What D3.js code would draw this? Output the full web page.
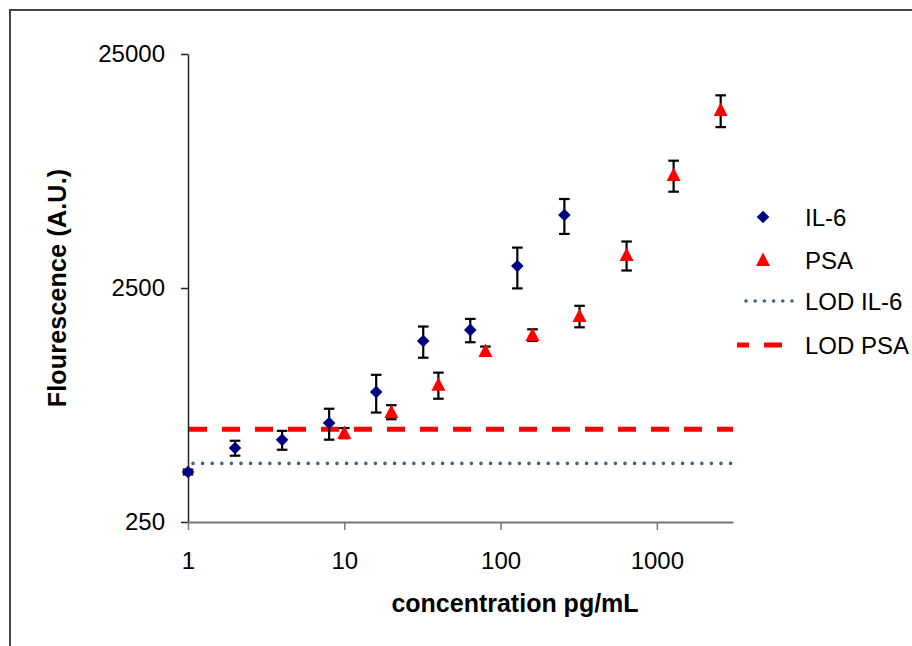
<!DOCTYPE html>
<html>
<head>
<meta charset="utf-8">
<script src="https://cdn.jsdelivr.net/npm/d3@7"></script>
<style>
  html, body { margin: 0; padding: 0; background: #fff; }
  svg { display: block; font-family: "Liberation Sans", Arial, sans-serif; }
</style>
</head>
<body>
<svg id="chart" width="912" height="646"></svg>
<script>
// ---- data ----
const il6Conc = [1, 2, 4, 8, 16, 32, 64, 128, 256];
const il6Fluor = [409, 518, 561, 662, 899, 1485, 1655, 3105, 5129];
const il6Err = [10, 38, 52, 100, 165, 226, 189, 615, 873];

const psaConc = [10, 20, 40, 80, 160, 320, 640, 1280, 2560];
const psaFluor = [600, 738, 964, 1345, 1575, 1898, 3460, 7600, 14410];
const psaErr = [30, 51, 123, 60, 90, 200, 490, 1150, 2235];

const lodIL6 = 445;
const lodPSA = 623;

const xTicks = [1, 10, 100, 1000];
const yTicks = [250, 2500, 25000];
const xDomain = [1, 3070];
const yDomain = [250, 25000];

const legendLabels = ["IL-6", "PSA", "LOD IL-6", "LOD PSA"];
const xTitle = "concentration pg/mL";
const yTitle = "Flourescence (A.U.)";

// ---- layout ----
const svg = d3.select("#chart");
const pLeft = 188, pRight = 733, pTop = 54, pBottom = 522;

const x = d3.scaleLog().domain(xDomain).range([pLeft, pRight]);
const y = d3.scaleLog().domain(yDomain).range([pBottom, pTop]);

// outer border
svg.append("path").attr("d", "M10,646 V10 H912")
  .attr("fill", "none").attr("stroke", "#444").attr("stroke-width", 2);

// axes
const yAxis = svg.append("g").attr("transform", `translate(${pLeft},0)`)
  .call(d3.axisLeft(y).tickValues(yTicks).tickFormat(d3.format("d"))
    .tickSize(7).tickSizeOuter(0).tickPadding(16));
yAxis.select(".domain").attr("stroke", "#222").attr("stroke-width", 1.5);
yAxis.selectAll(".tick line").attr("stroke", "#222").attr("stroke-width", 1.5);
yAxis.selectAll("text").attr("font-size", 24).attr("fill", "#000")
  .attr("font-family", "Liberation Sans, Arial, sans-serif");

const xAxis = svg.append("g").attr("transform", `translate(0,${pBottom})`)
  .call(d3.axisBottom(x).tickValues(xTicks).tickFormat(d3.format("d"))
    .tickSize(8).tickSizeOuter(0).tickPadding(22));
xAxis.select(".domain").attr("stroke", "#777").attr("stroke-width", 2.2);
xAxis.selectAll(".tick line").attr("stroke", "#777").attr("stroke-width", 1.5);
xAxis.selectAll("text").attr("font-size", 24).attr("fill", "#000")
  .attr("font-family", "Liberation Sans, Arial, sans-serif");

// axis titles
svg.append("text").attr("x", 515).attr("y", 612)
  .attr("text-anchor", "middle").attr("font-size", 25).attr("font-weight", "bold")
  .text(xTitle);
svg.append("text").attr("transform", `translate(66,${(pTop + pBottom) / 2}) rotate(-90)`)
  .attr("text-anchor", "middle").attr("font-size", 25).attr("font-weight", "bold")
  .attr("letter-spacing", 0.2).text(yTitle);

// LOD lines
const dotColor = "#41637f", dashColor = "#ff0000";
svg.append("line").attr("x1", pLeft + 5).attr("x2", pRight)
  .attr("y1", y(lodIL6)).attr("y2", y(lodIL6))
  .attr("stroke", dotColor).attr("stroke-width", 3.6)
  .attr("stroke-linecap", "round").attr("stroke-dasharray", "0 9.6");
svg.append("line").attr("x1", pLeft + 1).attr("x2", pRight)
  .attr("y1", y(lodPSA)).attr("y2", y(lodPSA))
  .attr("stroke", dashColor).attr("stroke-width", 5)
  .attr("stroke-dasharray", "18 15");

// error bars
function errBars(xs, ys, es) {
  const g = svg.append("g").attr("stroke", "#000").attr("stroke-width", 2.2);
  xs.forEach((c, i) => {
    const cx = x(c), y1 = y(ys[i] + es[i]), y0 = y(ys[i] - es[i]);
    g.append("line").attr("x1", cx).attr("x2", cx).attr("y1", y1).attr("y2", y0);
    g.append("line").attr("x1", cx - 5.3).attr("x2", cx + 5.3).attr("y1", y1).attr("y2", y1);
    g.append("line").attr("x1", cx - 5.3).attr("x2", cx + 5.3).attr("y1", y0).attr("y2", y0);
  });
}
errBars(il6Conc, il6Fluor, il6Err);
errBars(psaConc, psaFluor, psaErr);

const diamond = "M0,-6.3 L6.3,0 L0,6.3 L-6.3,0 Z";
const triangle = "M0,-7.5 L7,6 L-7,6 Z";

svg.append("g").selectAll("path").data(il6Conc).join("path")
  .attr("d", diamond).attr("fill", "#000080")
  .attr("transform", (d, i) => `translate(${x(d)},${y(il6Fluor[i])})`);
svg.append("g").selectAll("path").data(psaConc).join("path")
  .attr("d", triangle).attr("fill", "#ff0000")
  .attr("transform", (d, i) => `translate(${x(d)},${y(psaFluor[i])})`);

// legend
const legY = [217, 260, 301, 345];
const lg = svg.append("g");
lg.append("path").attr("d", diamond).attr("fill", "#000080")
  .attr("transform", `translate(763,${legY[0]})`);
lg.append("path").attr("d", triangle).attr("fill", "#ff0000")
  .attr("transform", `translate(763,${legY[1]})`);
lg.append("line").attr("x1", 746).attr("x2", 792).attr("y1", legY[2]).attr("y2", legY[2])
  .attr("stroke", dotColor).attr("stroke-width", 3.6)
  .attr("stroke-linecap", "round").attr("stroke-dasharray", "0 9.2");
lg.append("line").attr("x1", 737).attr("x2", 792).attr("y1", legY[3]).attr("y2", legY[3])
  .attr("stroke", dashColor).attr("stroke-width", 5)
  .attr("stroke-dasharray", "12 15 18 15");
legendLabels.forEach((t, i) => {
  lg.append("text").attr("x", 805).attr("y", legY[i]).attr("dy", "0.36em")
    .attr("font-size", 24).attr("fill", "#000").text(t);
});
</script>
</body>
</html>
